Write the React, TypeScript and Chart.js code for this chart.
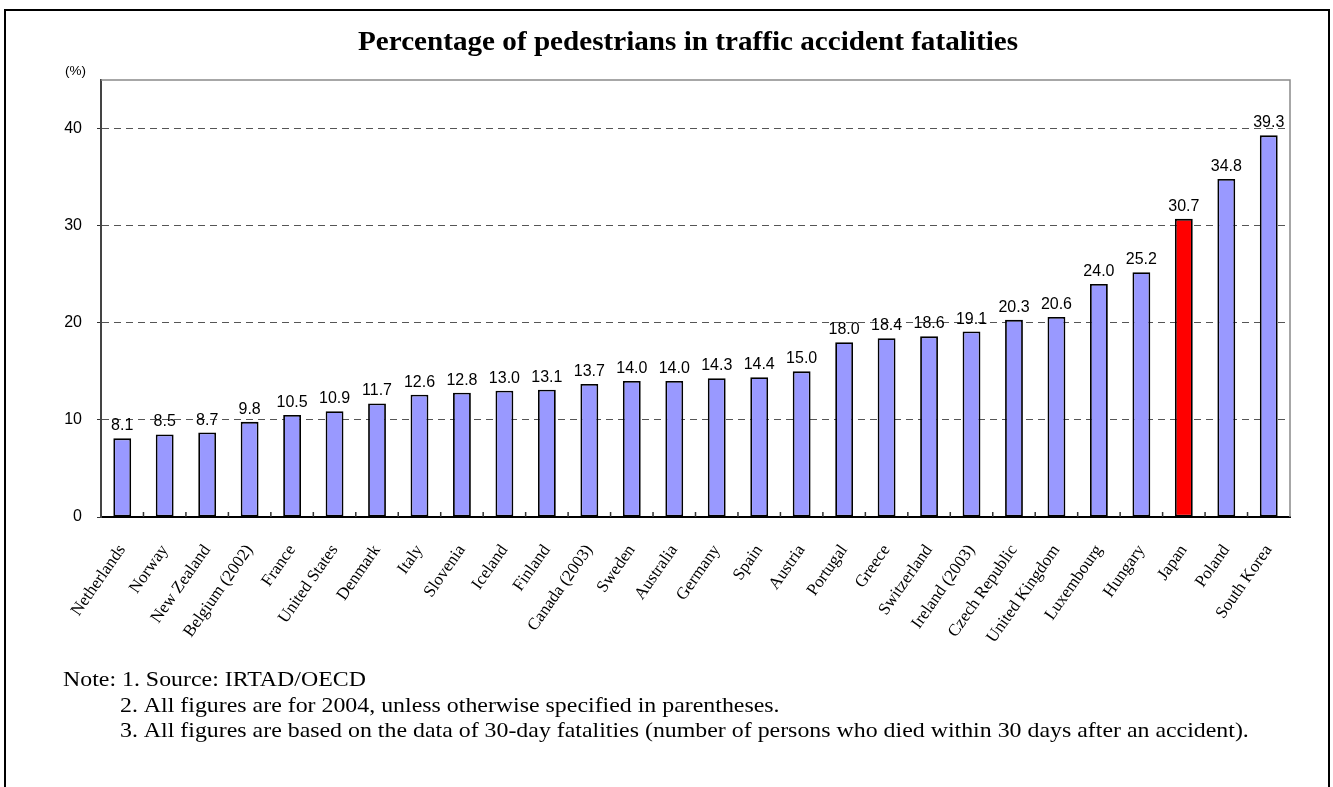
import React, { useEffect, useRef } from 'react';
import { Chart, registerables } from 'chart.js';

Chart.register(...registerables);

// Pedestrian share of traffic accident fatalities, by country (%)
const countries = [
  'Netherlands', 'Norway', 'New Zealand', 'Belgium (2002)', 'France', 'United States',
  'Denmark', 'Italy', 'Slovenia', 'Iceland', 'Finland', 'Canada (2003)', 'Sweden',
  'Australia', 'Germany', 'Spain', 'Austria', 'Portugal', 'Greece', 'Switzerland',
  'Ireland (2003)', 'Czech Republic', 'United Kingdom', 'Luxembourg', 'Hungary',
  'Japan', 'Poland', 'South Korea',
];
const pedestrianShare = [
  8.1, 8.5, 8.7, 9.8, 10.5, 10.9, 11.7, 12.6, 12.8, 13.0, 13.1, 13.7, 14.0, 14.0,
  14.3, 14.4, 15.0, 18.0, 18.4, 18.6, 19.1, 20.3, 20.6, 24.0, 25.2, 30.7, 34.8, 39.3,
];
const highlightCountry = 'Japan';
const yTickValues = [0, 10, 20, 30, 40];
const yMax = 45;

const chartTitle = 'Percentage of pedestrians in traffic accident fatalities';
const unitLabel = '(%)';
const noteHead = 'Note: 1. Source: IRTAD/OECD';
const noteLines = [
  '2. All figures are for 2004, unless otherwise specified in parentheses.',
  '3. All figures are based on the data of 30-day fatalities (number of persons who died within 30 days after an accident).',
];

const SANS = '"Liberation Sans", Arial, sans-serif';
const SERIF = '"Liberation Serif", "Times New Roman", serif';

// text drawn with a slight horizontal stretch
function wideText(ctx: CanvasRenderingContext2D, text: string, x: number, y: number, sx: number) {
  ctx.save();
  ctx.translate(x, y);
  ctx.scale(sx, 1);
  ctx.fillText(text, 0, 0);
  ctx.restore();
}

const decorations = {
  id: 'decorations',
  afterDatasetsDraw(chart: any) {
    const { ctx, chartArea: a } = chart;
    ctx.save();

    // plot frame (top and right edges)
    ctx.strokeStyle = '#8a8a8a';
    ctx.lineWidth = 1.5;
    ctx.beginPath();
    ctx.moveTo(a.left, a.top);
    ctx.lineTo(a.right, a.top);
    ctx.lineTo(a.right, a.bottom);
    ctx.stroke();

    // small inward tick marks between categories
    const n = chart.data.labels.length;
    const step = (a.right - a.left) / n;
    ctx.strokeStyle = '#333';
    ctx.lineWidth = 1.5;
    ctx.beginPath();
    for (let i = 1; i < n; i++) {
      const px = a.left + i * step;
      ctx.moveTo(px, a.bottom);
      ctx.lineTo(px, a.bottom - 5);
    }
    ctx.stroke();

    // value labels above bars
    const meta = chart.getDatasetMeta(0);
    ctx.font = `16px ${SANS}`;
    ctx.fillStyle = '#000';
    ctx.textAlign = 'center';
    ctx.textBaseline = 'alphabetic';
    meta.data.forEach((bar: any, i: number) => {
      ctx.fillText(pedestrianShare[i].toFixed(1), bar.x, bar.y - 8);
    });

    // title
    ctx.font = `bold 27.5px ${SERIF}`;
    ctx.textAlign = 'center';
    wideText(ctx, chartTitle, 688, 50, 1.06);

    // unit label
    ctx.font = `13.5px ${SANS}`;
    ctx.textBaseline = 'middle';
    ctx.fillText(unitLabel, 75.5, 71);

    // notes
    ctx.font = `22px ${SERIF}`;
    ctx.textAlign = 'left';
    ctx.textBaseline = 'alphabetic';
    wideText(ctx, noteHead, 63, 686, 1.085);
    noteLines.forEach((line, i) => wideText(ctx, line, 120, 711.5 + i * 25.5, 1.085));

    ctx.restore();
  },
};

export default function App() {
  const canvasRef = useRef<HTMLCanvasElement | null>(null);

  useEffect(() => {
    const canvas = canvasRef.current;
    if (!canvas) return;
    const chart = new Chart(canvas, {
      type: 'bar',
      data: {
        labels: countries,
        datasets: [
          {
            data: pedestrianShare,
            backgroundColor: countries.map((c) => (c === highlightCountry ? '#ff0000' : '#9999ff')),
            borderColor: '#000',
            borderWidth: 1.8,
            borderSkipped: false,
            barPercentage: 0.42,
            categoryPercentage: 1,
          },
        ],
      },
      options: {
        responsive: false,
        animation: false,
        devicePixelRatio: 1,
        layout: { padding: { top: 80, left: 61, right: 43, bottom: 0 } },
        plugins: {
          legend: { display: false },
          title: { display: false },
          tooltip: { enabled: false },
        },
        scales: {
          x: {
            offset: true,
            grid: { display: false },
            border: { display: true, color: '#000', width: 2 },
            ticks: {
              autoSkip: false,
              minRotation: 55,
              maxRotation: 55,
              padding: 16,
              color: '#000',
              font: { family: SERIF, size: 17 },
            },
            afterFit: (scale: any) => {
              scale.height = 270;
            },
          },
          y: {
            min: 0,
            max: yMax,
            grid: {
              color: '#555',
              lineWidth: 1,
              tickLength: 4,
              tickColor: '#333',
              tickBorderDash: [],
            },
            border: { display: true, color: '#444', width: 2, dash: [7, 5] },
            ticks: {
              padding: 15,
              color: '#000',
              font: { family: SANS, size: 16 },
            },
            afterBuildTicks: (scale: any) => {
              scale.ticks = yTickValues.map((v) => ({ value: v }));
            },
            afterFit: (scale: any) => {
              scale.width = 40;
            },
          },
        },
      },
      plugins: [decorations],
    });
    return () => chart.destroy();
  }, []);

  return (
    <div
      style={{
        position: 'fixed',
        left: 0,
        top: 0,
        width: 1333,
        height: 787,
        overflow: 'hidden',
        background: '#fff',
      }}
    >
      <div
        style={{
          position: 'absolute',
          left: 4,
          top: 9,
          width: 1326,
          height: 840,
          border: '2px solid #000',
          boxSizing: 'border-box',
        }}
      />
      <canvas
        ref={canvasRef}
        width={1333}
        height={787}
        style={{ position: 'absolute', left: 0, top: 0, width: 1333, height: 787 }}
      />
    </div>
  );
}
